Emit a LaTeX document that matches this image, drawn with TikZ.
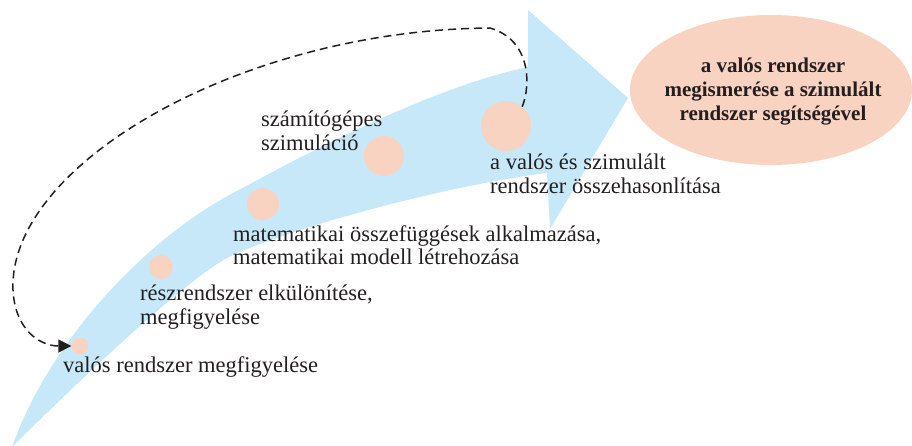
\documentclass[tikz,border=0pt]{standalone}
\usepackage{fontspec}
\setmainfont{Liberation Serif}
\usetikzlibrary{arrows.meta,shapes.geometric}
\definecolor{bandblue}{HTML}{C7E8F8}
\definecolor{peach}{HTML}{F9D3C1}
\definecolor{txt}{HTML}{231F20}
\begin{document}
\begin{tikzpicture}[x=1pt,y=-1pt,
  dot/.style={circle,fill=peach,inner sep=0pt,draw=none},
  lbl/.style={inner sep=0pt,text=txt,font=\fontsize{22.5}{24}\selectfont,align=left,anchor=base west},
  goaltxt/.style={inner sep=0pt,text=txt,font=\fontsize{21}{24}\selectfont\bfseries,align=center},
  conn/.style={dashed,dash pattern=on 8pt off 5pt,line width=1.5pt,draw=txt,-{Triangle[length=13pt,width=13pt]}}]
\useasboundingbox (0,0) rectangle (912,446);
% big curved arrow
\fill[bandblue] (12,447) .. controls (50,340) and (145,240) .. (233,193)
  .. controls (286,165) and (420,90) .. (528,67) -- (528,10) -- (628,98) -- (550,229) -- (547,173)
  .. controls (450,185) and (300,225) .. (233,255)
  .. controls (193,273) and (90,370) .. (12,447) -- cycle;
% steps
\node[dot,minimum size=17pt] (c1) at (80,346) {};
\node[dot,minimum size=24pt] (c2) at (161,267) {};
\node[dot,minimum size=32pt] (c3) at (263,204) {};
\node[dot,minimum size=40pt] (c4) at (384,156) {};
\node[dot,minimum size=50pt] (c5) at (506,126) {};
% goal
\node[ellipse,fill=peach,minimum width=282pt,minimum height=150pt,inner sep=0pt] (goal) at (771,90) {};
\node[goaltxt] (goaltext) at (773,92) {a valós rendszer\\megismerése a szimulált\\rendszer segítségével};
% labels (base = last line)
\node[lbl] (t1) at (63,372) {valós rendszer megfigyelése};
\node[lbl] (t2) at (140,324) {részrendszer elkülönítése,\\megfigyelése};
\node[lbl] (t3) at (233,265) {matematikai összefüggések alkalmazása,\\matematikai modell létrehozása};
\node[lbl] (t4) at (261,151) {számítógépes\\szimuláció};
\node[lbl] (t5) at (490,194) {a valós és szimulált\\rendszer összehasonlítása};
% feedback loop
\draw[conn] (c5.50) .. controls (531,85) and (531,40) .. (490,28)
  .. controls (240,30) and (8,165) .. (13,290)
  .. controls (15,330) and (40,346) .. (c1.west);
\end{tikzpicture}
\end{document}
